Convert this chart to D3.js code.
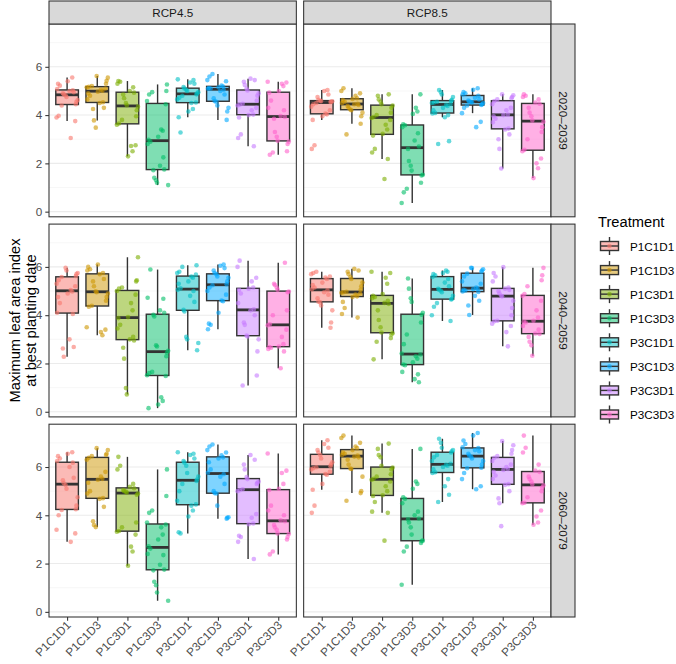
<!DOCTYPE html>
<html>
<head>
<meta charset="utf-8">
<script src="https://cdn.jsdelivr.net/npm/d3@7"></script>
<style>
  body { margin: 0; background: #fff; }
  svg { display: block; font-family: "Liberation Sans", Arial, Helvetica, sans-serif; }
</style>
</head>
<body>
<svg id="chart" width="676" height="664"></svg>
<script>
// ---------------- data ----------------
const treatments = ["P1C1D1", "P1C1D3", "P1C3D1", "P1C3D3", "P3C1D1", "P3C1D3", "P3C3D1", "P3C3D3"];
const scenarios = ["RCP4.5", "RCP8.5"];
const periods = ["2020\u20132039", "2040\u20132059", "2060\u20132079"];
const colors = ["#F8766D", "#CD9600", "#7CAE00", "#00BE67", "#00BFC4", "#00A9FF", "#C77CFF", "#FF61CC"];
const yTicks = [0, 2, 4, 6];
const yMinor = [1, 3, 5, 7];
const legendTitle = "Treatment";
const yTitle = ["Maximum leaf area index", "at best planting date"];

// one value per year (20 years) for each treatment
const rcp45_2020 = [
  [3.05, 3.75, 3.9, 3.97, 4.40, 4.45, 4.55, 4.62, 4.75, 4.82, 4.86, 4.9, 4.95, 5.0, 5.03, 5.08, 5.22, 5.3, 5.4, 5.56],
  [3.48, 3.78, 4.25, 4.3, 4.5, 4.53, 4.65, 4.8, 4.9, 4.97, 5.01, 5.05, 5.1, 5.15, 5.17, 5.2, 5.3, 5.42, 5.55, 5.62],
  [2.29, 2.5, 2.72, 2.75, 3.6, 3.65, 3.8, 3.95, 4.2, 4.35, 4.41, 4.5, 4.7, 4.85, 4.93, 5.0, 5.15, 5.3, 5.38, 5.41],
  [1.1, 1.2, 1.3, 1.4, 1.72, 1.75, 1.9, 2.25, 2.8, 2.9, 2.98, 3.1, 3.35, 3.4, 4.45, 4.58, 4.85, 4.95, 5.0, 5.27],
  [3.28, 3.91, 4.15, 4.25, 4.5, 4.52, 4.65, 4.72, 4.8, 4.86, 4.9, 4.95, 5.0, 5.05, 5.1, 5.16, 5.3, 5.35, 5.45, 5.48],
  [3.8, 4.15, 4.3, 4.4, 4.55, 4.58, 4.7, 4.85, 5.0, 5.05, 5.09, 5.1, 5.12, 5.15, 5.18, 5.22, 5.4, 5.45, 5.6, 5.7],
  [2.71, 3.05, 3.2, 3.9, 4.0, 4.02, 4.2, 4.3, 4.4, 4.43, 4.47, 4.6, 4.8, 4.9, 5.02, 5.1, 5.25, 5.38, 5.45, 5.51],
  [2.36, 2.45, 2.5, 2.8, 2.9, 2.94, 3.1, 3.3, 3.85, 3.92, 3.96, 4.2, 4.3, 4.6, 4.93, 5.0, 5.2, 5.3, 5.35, 5.38]
];
const rcp85_2020 = [
  [2.6, 2.75, 3.8, 3.95, 4.03, 4.06, 4.2, 4.35, 4.45, 4.5, 4.54, 4.55, 4.57, 4.58, 4.59, 4.63, 4.75, 4.85, 5.0, 5.04],
  [3.2, 3.64, 3.95, 4.1, 4.2, 4.23, 4.3, 4.38, 4.42, 4.45, 4.47, 4.5, 4.55, 4.62, 4.67, 4.7, 4.8, 4.9, 5.0, 5.11],
  [1.35, 2.18, 2.45, 2.6, 3.15, 3.22, 3.4, 3.6, 3.8, 3.88, 3.92, 4.0, 4.1, 4.3, 4.4, 4.45, 4.55, 4.65, 4.8, 4.86],
  [0.36, 0.8, 0.95, 1.2, 1.5, 1.53, 1.7, 1.9, 2.1, 2.6, 2.7, 2.95, 3.25, 3.5, 3.58, 3.62, 4.05, 4.15, 4.3, 4.86],
  [2.8, 2.92, 3.91, 4.0, 4.07, 4.09, 4.2, 4.3, 4.38, 4.42, 4.46, 4.5, 4.52, 4.55, 4.59, 4.63, 4.75, 4.85, 4.95, 5.04],
  [3.5, 3.72, 4.08, 4.3, 4.4, 4.42, 4.45, 4.5, 4.53, 4.54, 4.56, 4.6, 4.65, 4.72, 4.8, 4.85, 4.9, 4.95, 5.05, 5.11],
  [1.79, 2.6, 3.0, 3.2, 3.4, 3.44, 3.7, 3.85, 3.95, 4.0, 4.02, 4.2, 4.3, 4.45, 4.58, 4.65, 4.7, 4.75, 4.82, 4.86],
  [1.39, 1.8, 2.0, 2.2, 2.5, 2.56, 3.0, 3.3, 3.5, 3.72, 3.78, 3.95, 4.1, 4.3, 4.47, 4.52, 4.65, 4.75, 4.8, 4.86]
];
const rcp45_2040 = [
  [2.28, 2.62, 2.68, 3.0, 4.05, 4.1, 4.5, 4.75, 4.9, 4.98, 5.04, 5.2, 5.3, 5.45, 5.58, 5.62, 5.7, 5.75, 5.85, 5.96],
  [3.17, 3.3, 3.4, 3.5, 4.35, 4.39, 4.6, 4.75, 4.9, 4.95, 4.99, 5.2, 5.4, 5.5, 5.7, 5.75, 5.85, 5.9, 6.0, 6.1],
  [0.72, 0.98, 2.2, 2.65, 2.95, 3.0, 3.1, 3.45, 3.6, 3.88, 3.92, 4.2, 4.5, 4.85, 5.0, 5.1, 5.15, 5.4, 5.45, 6.4],
  [0.15, 0.3, 0.45, 0.6, 1.48, 1.51, 1.6, 1.65, 2.3, 2.45, 2.53, 2.7, 2.75, 3.95, 4.02, 4.1, 4.2, 4.68, 4.72, 5.89],
  [2.55, 2.85, 3.0, 3.1, 4.15, 4.22, 4.55, 4.8, 5.0, 5.05, 5.11, 5.3, 5.4, 5.55, 5.6, 5.68, 5.75, 5.8, 6.0, 6.07],
  [3.42, 3.6, 3.65, 4.1, 4.58, 4.61, 4.85, 5.0, 5.15, 5.24, 5.28, 5.4, 5.55, 5.6, 5.7, 5.75, 5.85, 5.95, 6.05, 6.1],
  [1.09, 1.5, 2.5, 3.0, 3.12, 3.16, 3.6, 3.7, 4.0, 4.2, 4.24, 4.5, 4.9, 5.05, 5.1, 5.15, 5.4, 5.55, 6.0, 6.26],
  [1.8, 2.5, 2.6, 2.65, 2.68, 2.7, 2.8, 3.1, 3.4, 3.58, 3.62, 4.0, 4.2, 4.95, 4.98, 5.05, 5.15, 5.25, 5.3, 6.17]
];
const rcp85_2040 = [
  [3.48, 3.7, 4.2, 4.4, 4.53, 4.56, 4.7, 4.85, 4.95, 5.03, 5.07, 5.15, 5.25, 5.35, 5.5, 5.56, 5.6, 5.7, 5.75, 5.8],
  [3.9, 4.05, 4.3, 4.55, 4.75, 4.78, 4.85, 4.9, 4.93, 4.95, 4.97, 5.05, 5.2, 5.35, 5.5, 5.58, 5.7, 5.8, 5.85, 5.92],
  [2.17, 2.9, 3.05, 3.2, 3.25, 3.28, 3.5, 3.8, 4.2, 4.47, 4.51, 4.6, 4.7, 4.75, 4.8, 4.88, 5.3, 5.55, 5.75, 5.8],
  [1.22, 1.35, 1.55, 1.65, 1.93, 1.96, 2.05, 2.2, 2.3, 2.37, 2.41, 2.8, 3.2, 3.7, 4.02, 4.1, 4.55, 4.7, 5.1, 5.52],
  [3.76, 4.0, 4.35, 4.5, 4.65, 4.67, 4.8, 4.95, 5.02, 5.05, 5.09, 5.2, 5.35, 5.5, 5.58, 5.65, 5.7, 5.75, 5.8, 5.85],
  [4.01, 4.4, 4.6, 4.8, 4.96, 4.98, 5.02, 5.05, 5.08, 5.1, 5.14, 5.3, 5.4, 5.6, 5.72, 5.8, 5.85, 5.9, 5.95, 5.96],
  [2.71, 3.3, 3.55, 3.65, 3.75, 3.77, 4.0, 4.3, 4.6, 4.78, 4.8, 4.9, 5.0, 5.05, 5.1, 5.14, 5.4, 5.6, 5.75, 5.99],
  [2.32, 2.75, 2.9, 3.1, 3.22, 3.24, 3.4, 3.55, 3.7, 3.73, 3.77, 3.9, 4.2, 4.6, 4.8, 4.88, 5.2, 5.45, 5.65, 5.96]
];
const rcp45_2060 = [
  [2.9, 3.25, 3.4, 4.0, 4.22, 4.25, 4.4, 4.75, 5.1, 5.25, 5.33, 5.45, 5.55, 6.0, 6.18, 6.25, 6.35, 6.45, 6.55, 6.61],
  [3.51, 3.6, 3.75, 4.35, 4.68, 4.71, 4.9, 5.0, 5.35, 5.47, 5.51, 5.6, 5.8, 6.3, 6.38, 6.45, 6.5, 6.55, 6.7, 6.78],
  [1.91, 2.5, 2.7, 3.2, 3.32, 3.35, 3.5, 3.7, 4.85, 4.9, 4.94, 4.98, 5.0, 5.05, 5.12, 5.18, 5.3, 5.9, 6.05, 6.42],
  [0.46, 0.8, 1.1, 1.25, 1.72, 1.75, 1.95, 2.35, 2.4, 2.62, 2.72, 3.0, 3.2, 3.5, 3.62, 3.7, 4.1, 4.2, 4.8, 5.9],
  [3.25, 3.3, 3.95, 4.2, 4.4, 4.45, 4.6, 5.0, 5.3, 5.42, 5.48, 5.6, 5.75, 6.05, 6.18, 6.25, 6.35, 6.5, 6.55, 6.61],
  [3.86, 3.9, 3.92, 4.4, 4.9, 4.92, 5.0, 5.3, 5.6, 5.7, 5.76, 5.9, 6.2, 6.35, 6.4, 6.48, 6.6, 6.7, 6.85, 6.93],
  [2.19, 2.9, 3.1, 3.15, 3.63, 3.66, 3.9, 4.05, 5.0, 5.04, 5.08, 5.3, 5.35, 5.4, 5.5, 5.58, 5.9, 6.1, 6.3, 6.5],
  [2.38, 2.5, 3.0, 3.1, 3.22, 3.25, 3.4, 3.5, 3.6, 3.75, 3.79, 4.0, 4.2, 4.4, 5.05, 5.1, 5.3, 5.75, 5.85, 6.56]
];
const rcp85_2060 = [
  [4.1, 4.4, 5.06, 5.3, 5.68, 5.71, 5.8, 5.9, 5.95, 5.99, 6.03, 6.1, 6.2, 6.35, 6.5, 6.6, 6.7, 6.8, 6.95, 7.11],
  [4.6, 4.92, 5.0, 5.6, 5.92, 5.94, 6.1, 6.3, 6.4, 6.43, 6.47, 6.5, 6.55, 6.6, 6.7, 6.78, 6.85, 7.0, 7.2, 7.3],
  [2.95, 4.1, 4.15, 4.55, 4.8, 4.83, 5.0, 5.2, 5.4, 5.47, 5.51, 5.6, 5.7, 5.9, 5.98, 6.05, 6.4, 6.5, 6.75, 6.97],
  [1.12, 2.5, 2.7, 2.85, 2.93, 2.95, 3.2, 3.5, 3.7, 3.83, 3.87, 4.0, 4.15, 4.5, 4.68, 4.75, 5.1, 5.3, 5.4, 6.75],
  [4.55, 4.85, 5.2, 5.5, 5.75, 5.78, 5.9, 6.0, 6.05, 6.09, 6.13, 6.25, 6.4, 6.5, 6.6, 6.65, 6.7, 6.8, 7.0, 7.17],
  [5.08, 5.2, 5.5, 5.75, 5.95, 5.97, 6.1, 6.25, 6.35, 6.43, 6.47, 6.55, 6.65, 6.7, 6.78, 6.82, 6.95, 7.1, 7.3, 7.41],
  [3.55, 4.5, 4.7, 5.0, 5.26, 5.29, 5.5, 5.65, 5.8, 5.88, 5.92, 6.0, 6.1, 6.25, 6.38, 6.45, 6.55, 6.7, 6.9, 7.08],
  [3.61, 3.7, 3.95, 4.2, 4.5, 4.52, 4.75, 5.0, 5.15, 5.24, 5.28, 5.4, 5.5, 5.6, 5.8, 5.85, 6.1, 6.6, 6.8, 7.3]
];
// fixed horizontal jitter offsets (fraction of category step)
const jitterOffsets = [0.12, -0.28, 0.31, -0.05, 0.22, -0.33, 0.02, 0.27, -0.18, 0.35,
                       -0.11, 0.08, -0.24, 0.17, -0.35, 0.29, -0.02, -0.14, 0.19, -0.3];

const facets = [
  [rcp45_2020, rcp85_2020],
  [rcp45_2040, rcp85_2040],
  [rcp45_2060, rcp85_2060]
];

// ---------------- layout ----------------
const svg = d3.select("#chart");
const colX = [[49, 296.35], [303.65, 551]];
const rowY = [[24, 216.8], [224.1, 416.9], [424.2, 617]];
const stripTop = [1, 24];
const stripRight = [551, 575];
const dark = "#333333";
const axisTextColor = "#4D4D4D";

const allVals = facets.flat(3);
const [vmin, vmax] = d3.extent(allVals);
const pad = (vmax - vmin) * 0.05;

function stats(vals) {
  const s = vals.slice().sort(d3.ascending);
  const q1 = d3.quantile(s, 0.25), med = d3.quantile(s, 0.5), q3 = d3.quantile(s, 0.75);
  const iqr = q3 - q1;
  const lo = d3.min(s.filter(v => v >= q1 - 1.5 * iqr));
  const hi = d3.max(s.filter(v => v <= q3 + 1.5 * iqr));
  return { q1, med, q3, lo, hi };
}

facets.forEach((row, ri) => {
  row.forEach((groups, ci) => {
    const x = d3.scalePoint().domain(treatments).range(colX[ci]).padding(0.6);
    const y = d3.scaleLinear().domain([vmin - pad, vmax + pad]).range([rowY[ri][1], rowY[ri][0]]);
    const step = x.step();
    const bw = step * 0.75;
    const g = svg.append("g");

    // panel background
    g.append("rect").attr("x", colX[ci][0]).attr("y", rowY[ri][0])
      .attr("width", colX[ci][1] - colX[ci][0]).attr("height", rowY[ri][1] - rowY[ri][0])
      .attr("fill", "#fff");
    // grid
    g.selectAll(".minor").data(yMinor.filter(v => y(v) >= rowY[ri][0])).enter().append("line")
      .attr("x1", colX[ci][0]).attr("x2", colX[ci][1])
      .attr("y1", d => y(d)).attr("y2", d => y(d))
      .attr("stroke", "#F2F2F2").attr("stroke-width", 0.6);
    g.selectAll(".major").data(yTicks).enter().append("line")
      .attr("x1", colX[ci][0]).attr("x2", colX[ci][1])
      .attr("y1", d => y(d)).attr("y2", d => y(d))
      .attr("stroke", "#EBEBEB").attr("stroke-width", 1.07);

    groups.forEach((vals, ti) => {
      const st = stats(vals);
      const cx = x(treatments[ti]);
      const col = colors[ti];
      const bg = g.append("g");
      // whiskers
      bg.append("line").attr("x1", cx).attr("x2", cx).attr("y1", y(st.q3)).attr("y2", y(st.hi))
        .attr("stroke", dark).attr("stroke-width", 1.4);
      bg.append("line").attr("x1", cx).attr("x2", cx).attr("y1", y(st.q1)).attr("y2", y(st.lo))
        .attr("stroke", dark).attr("stroke-width", 1.4);
      // box
      bg.append("rect").attr("x", cx - bw / 2).attr("y", y(st.q3))
        .attr("width", bw).attr("height", y(st.q1) - y(st.q3))
        .attr("fill", col).attr("fill-opacity", 0.5)
        .attr("stroke", dark).attr("stroke-width", 1.4);
      bg.append("line").attr("x1", cx - bw / 2).attr("x2", cx + bw / 2)
        .attr("y1", y(st.med)).attr("y2", y(st.med))
        .attr("stroke", dark).attr("stroke-width", 2.8);
      // jittered points
      bg.selectAll("circle").data(vals).enter().append("circle")
        .attr("cx", (d, i) => cx + jitterOffsets[(i * 7 + ti * 3 + (ri * 2 + ci) * 5) % 20] * step)
        .attr("cy", d => y(d))
        .attr("r", 2.3)
        .attr("fill", col).attr("fill-opacity", 0.6);
    });

    // panel border
    g.append("rect").attr("x", colX[ci][0]).attr("y", rowY[ri][0])
      .attr("width", colX[ci][1] - colX[ci][0]).attr("height", rowY[ri][1] - rowY[ri][0])
      .attr("fill", "none").attr("stroke", dark).attr("stroke-width", 1.07);

    // y axis on left column
    if (ci === 0) {
      const ax = svg.append("g").attr("transform", `translate(${colX[0][0]},0)`)
        .call(d3.axisLeft(y).tickValues(yTicks).tickFormat(d3.format("d")).tickSize(3.7).tickPadding(3));
      ax.select(".domain").remove();
      ax.selectAll("line").attr("stroke", dark).attr("stroke-width", 1.07);
      ax.selectAll("text").attr("fill", axisTextColor).style("font-size", "11.7px");
    }
    // x axis on bottom row
    if (ri === facets.length - 1) {
      const ax = svg.append("g").attr("transform", `translate(0,${rowY[ri][1]})`)
        .call(d3.axisBottom(x).tickSize(3.7).tickPadding(2));
      ax.select(".domain").remove();
      ax.selectAll("line").attr("stroke", dark).attr("stroke-width", 1.07);
      ax.selectAll("text").attr("fill", axisTextColor).style("font-size", "11.7px")
        .attr("text-anchor", "end").attr("dy", null).attr("y", null)
        .attr("transform", "translate(4,9) rotate(-45)");
    }
    // top strip
    if (ri === 0) {
      svg.append("rect").attr("x", colX[ci][0]).attr("y", stripTop[0])
        .attr("width", colX[ci][1] - colX[ci][0]).attr("height", stripTop[1] - stripTop[0])
        .attr("fill", "#D9D9D9").attr("stroke", dark).attr("stroke-width", 1.07);
      svg.append("text").attr("x", (colX[ci][0] + colX[ci][1]) / 2).attr("y", (stripTop[0] + stripTop[1]) / 2)
        .attr("text-anchor", "middle").attr("dominant-baseline", "central")
        .attr("fill", "#1A1A1A").style("font-size", "11.7px").text(scenarios[ci]);
    }
    // right strip
    if (ci === 1) {
      svg.append("rect").attr("x", stripRight[0]).attr("y", rowY[ri][0])
        .attr("width", stripRight[1] - stripRight[0]).attr("height", rowY[ri][1] - rowY[ri][0])
        .attr("fill", "#D9D9D9").attr("stroke", dark).attr("stroke-width", 1.07);
      const sx = (stripRight[0] + stripRight[1]) / 2, sy = (rowY[ri][0] + rowY[ri][1]) / 2;
      svg.append("text").attr("transform", `translate(${sx},${sy}) rotate(90)`)
        .attr("text-anchor", "middle").attr("dominant-baseline", "central")
        .attr("fill", "#1A1A1A").style("font-size", "11.7px").text(periods[ri]);
    }
  });
});

// y axis title
const yMid = (rowY[0][0] + rowY[2][1]) / 2;
yTitle.forEach((t, i) => {
  svg.append("text").attr("transform", `translate(${15 + i * 15.5},${yMid}) rotate(-90)`)
    .attr("text-anchor", "middle").attr("dominant-baseline", "central")
    .attr("fill", "#000").style("font-size", "14.7px").text(t);
});

// legend
const lg = svg.append("g");
lg.append("text").attr("x", 598).attr("y", 227).attr("fill", "#000")
  .style("font-size", "14.7px").text(legendTitle);
const ly = d3.scalePoint().domain(treatments).range([246, 414.5]);
treatments.forEach((t, i) => {
  const cy = ly(t);
  const k = lg.append("g");
  k.append("line").attr("x1", 609.5).attr("x2", 609.5).attr("y1", cy - 9).attr("y2", cy + 9)
    .attr("stroke", dark).attr("stroke-width", 1.4);
  k.append("rect").attr("x", 600.5).attr("y", cy - 4.5).attr("width", 18).attr("height", 9)
    .attr("fill", "#fff");
  k.append("rect").attr("x", 600.5).attr("y", cy - 4.5).attr("width", 18).attr("height", 9)
    .attr("fill", colors[i]).attr("fill-opacity", 0.5).attr("stroke", dark).attr("stroke-width", 1.4);
  k.append("line").attr("x1", 600.5).attr("x2", 618.5).attr("y1", cy).attr("y2", cy)
    .attr("stroke", dark).attr("stroke-width", 1.4);
  k.append("circle").attr("cx", 609.5).attr("cy", cy).attr("r", 2.3)
    .attr("fill", colors[i]).attr("fill-opacity", 0.6);
  lg.append("text").attr("x", 630).attr("y", cy).attr("dominant-baseline", "central")
    .attr("fill", "#000").style("font-size", "11.7px").text(t);
});
</script>
</body>
</html>
